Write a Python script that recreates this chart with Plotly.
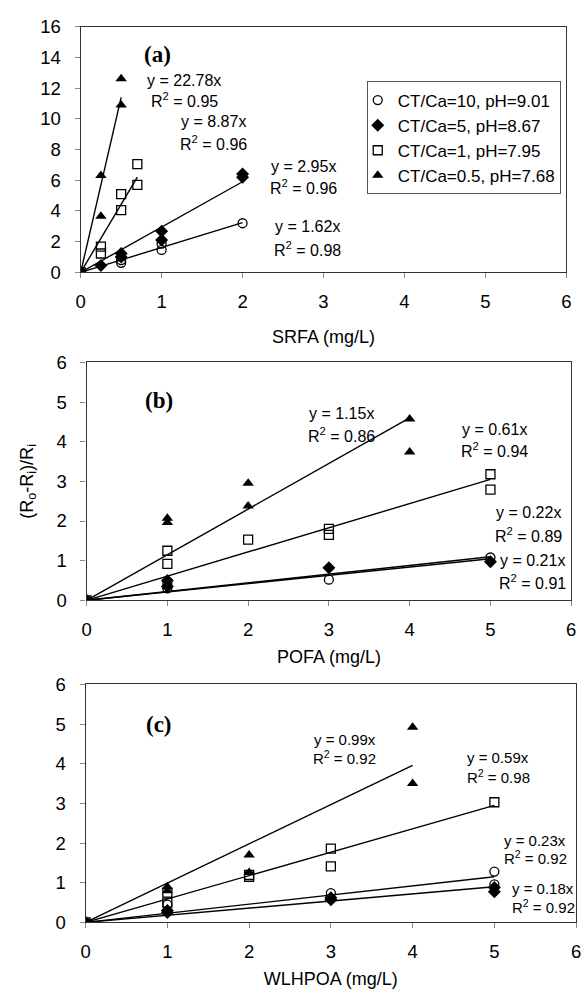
import plotly.graph_objects as go

# ---------------- data ----------------
series_names = ["CT/Ca=10, pH=9.01", "CT/Ca=5, pH=8.67", "CT/Ca=1, pH=7.95", "CT/Ca=0.5, pH=7.68"]

# panel (a) SRFA
a_circle_x = [0, 0.5, 0.5, 1, 1, 2]
a_circle_y = [0, 0.62, 0.8, 1.46, 1.87, 3.2]
a_diamond_x = [0, 0.25, 0.5, 0.5, 1, 1, 2, 2]
a_diamond_y = [0, 0.45, 1.0, 1.23, 2.1, 2.68, 6.2, 6.4]
a_square_x = [0, 0.25, 0.25, 0.5, 0.5, 0.7, 0.7]
a_square_y = [0, 1.23, 1.68, 4.05, 5.1, 5.7, 7.05]
a_tri_x = [0, 0.25, 0.25, 0.5, 0.5]
a_tri_y = [0, 3.65, 6.3, 10.9, 12.6]
a_slopes = [1.62, 2.95, 8.87, 22.78]
a_xmax = [2, 2, 0.7, 0.5]
a_r2 = [0.98, 0.96, 0.96, 0.95]

# panel (b) POFA
b_circle_x = [0, 1, 1, 3, 5]
b_circle_y = [0, 0.42, 0.3, 0.52, 1.08]
b_diamond_x = [0, 1, 1, 3, 5]
b_diamond_y = [0, 0.5, 0.35, 0.82, 0.97]
b_square_x = [0, 1, 1, 2, 3, 3, 5, 5]
b_square_y = [0, 1.25, 0.92, 1.53, 1.8, 1.65, 3.18, 2.79]
b_tri_x = [0, 1, 1, 2, 2, 4, 4]
b_tri_y = [0, 2.07, 1.96, 2.95, 2.38, 4.57, 3.74]
b_slopes = [0.22, 0.21, 0.61, 1.15]
b_xmax = [5, 5, 5, 4]
b_r2 = [0.89, 0.91, 0.94, 0.86]

# panel (c) WLHPOA
c_circle_x = [0, 1, 3, 5, 5]
c_circle_y = [0, 0.45, 0.74, 1.28, 0.96]
c_diamond_x = [0, 1, 1, 3, 3, 5, 5]
c_diamond_y = [0, 0.3, 0.25, 0.57, 0.62, 0.77, 0.88]
c_square_x = [0, 1, 1, 2, 2, 3, 3, 5]
c_square_y = [0, 0.75, 0.5, 1.15, 1.2, 1.86, 1.41, 3.03]
c_tri_x = [0, 1, 1, 2, 2, 4, 4]
c_tri_y = [0, 0.9, 0.8, 1.7, 1.26, 4.92, 3.5]
c_slopes = [0.23, 0.18, 0.59, 0.99]
c_xmax = [5, 5, 5, 4]
c_r2 = [0.92, 0.92, 0.98, 0.92]

x_titles = ["SRFA (mg/L)", "POFA (mg/L)", "WLHPOA (mg/L)"]
panel_labels = ["(a)", "(b)", "(c)"]

# ---------------- styling ----------------
FONT = "Liberation Sans, Arial, sans-serif"
marker_styles = [
    dict(symbol="circle-open", size=9, color="black", line=dict(width=1.3, color="black")),
    dict(symbol="diamond", size=10, color="black", line=dict(width=0)),
    dict(symbol="square-open", size=9, color="black", line=dict(width=1.3, color="black")),
    dict(symbol="triangle-up", size=10, color="black", line=dict(width=0)),
]

panels = [
    dict(xs=[a_circle_x, a_diamond_x, a_square_x, a_tri_x],
         ys=[a_circle_y, a_diamond_y, a_square_y, a_tri_y],
         slopes=a_slopes, xmax=a_xmax, r2=a_r2, yrange=[0, 16], dtick=2,
         xdom=[77/588, 571/588], ydom=[1-267/996, 1-16/996], xstand=19),
    dict(xs=[b_circle_x, b_diamond_x, b_square_x, b_tri_x],
         ys=[b_circle_y, b_diamond_y, b_square_y, b_tri_y],
         slopes=b_slopes, xmax=b_xmax, r2=b_r2, yrange=[0, 6], dtick=1,
         xdom=[83/588, 576/588], ydom=[1-602/996, 1-359/996], xstand=11),
    dict(xs=[c_circle_x, c_diamond_x, c_square_x, c_tri_x],
         ys=[c_circle_y, c_diamond_y, c_square_y, c_tri_y],
         slopes=c_slopes, xmax=c_xmax, r2=c_r2, yrange=[0, 6], dtick=1,
         xdom=[82/588, 581/588], ydom=[1-931/996, 1-688/996], xstand=11),
]

# equation label positions (data coords) per panel, order circle, diamond, square, triangle
eq_pos = [
    [(2.8, 3.0, 1.5), (2.75, 6.9, 5.55), (1.64, 9.8, 8.4), (1.28, 12.5, 11.2)],
    [(5.47, 2.22, 1.65), (5.52, 1.01, 0.47), (5.05, 4.32, 3.78), (3.15, 4.72, 4.17)],
    [(5.5, 2.07, 1.63), (5.6, 0.85, 0.4), (5.05, 4.15, 3.68), (3.17, 4.6, 4.15)],
]
eq_font = [16, 16, 15]
label_pos = [(0.95, 14.2), (0.9, 5.03), (0.9, 4.98)]

fig = go.Figure()
annotations = []
layout_axes = {}

for p, panel in enumerate(panels):
    sfx = "" if p == 0 else str(p + 1)
    xa, ya = "x" + sfx, "y" + sfx
    # regression lines
    for k in range(4):
        xe = panel["xmax"][k]
        fig.add_trace(go.Scatter(x=[0, xe], y=[0, panel["slopes"][k] * xe], mode="lines",
                                 line=dict(color="black", width=1.4), showlegend=False,
                                 xaxis=xa, yaxis=ya, hoverinfo="skip"))
    # markers
    for k in range(4):
        fig.add_trace(go.Scatter(x=panel["xs"][k], y=panel["ys"][k], mode="markers",
                                 marker=marker_styles[k], name=series_names[k],
                                 showlegend=(p == 0), xaxis=xa, yaxis=ya))
    # equations
    for k in range(4):
        ex, ey1, ey2 = eq_pos[p][k]
        annotations.append(dict(x=ex, y=ey1, xref=xa, yref=ya, showarrow=False,
                                text=f"y = {panel['slopes'][k]:.2f}x",
                                font=dict(family=FONT, size=eq_font[p], color="black")))
        annotations.append(dict(x=ex, y=ey2, xref=xa, yref=ya, showarrow=False,
                                text=f"R<sup>2</sup> = {panel['r2'][k]:.2f}",
                                font=dict(family=FONT, size=eq_font[p], color="black")))
    lx, ly = label_pos[p]
    annotations.append(dict(x=lx, y=ly, xref=xa, yref=ya, showarrow=False,
                            text=f"<b>{panel_labels[p]}</b>",
                            font=dict(family="Liberation Serif, Times New Roman, serif", size=23, color="black")))
    axis_common = dict(showgrid=False, zeroline=False, showline=True, linecolor="#333",
                       linewidth=1.2, mirror=True, ticks="outside", ticklen=5, tickcolor="#888",
                       tickfont=dict(family=FONT, size=18.5, color="black"))
    layout_axes["xaxis" + sfx] = dict(axis_common, domain=panel["xdom"], range=[0, 6], dtick=1,
                                      tick0=0, anchor=ya, ticklabelstandoff=7,
                                      title=dict(text=x_titles[p], standoff=panel["xstand"],
                                                 font=dict(family=FONT, size=18, color="black")))
    layout_axes["yaxis" + sfx] = dict(axis_common, domain=panel["ydom"], range=panel["yrange"],
                                      dtick=panel["dtick"], tick0=0, anchor=xa, ticklabelstandoff=10)

layout_axes["yaxis2"]["title"] = dict(text="(R<sub>o</sub>-R<sub>i</sub>)/R<sub>i</sub>", standoff=18,
                                      font=dict(family=FONT, size=18, color="black"))

fig.update_layout(
    width=588, height=996,
    margin=dict(l=0, r=0, t=0, b=0),
    paper_bgcolor="white", plot_bgcolor="white",
    font=dict(family=FONT, color="black"),
    annotations=annotations,
    legend=dict(x=368/588, y=1-72/996, xanchor="left", yanchor="top",
                bordercolor="#555", borderwidth=1, bgcolor="white",
                font=dict(family=FONT, size=17, color="black"),
                itemwidth=30, indentation=-10, tracegroupgap=0),
    **layout_axes,
)

fig.write_html("out.html")
